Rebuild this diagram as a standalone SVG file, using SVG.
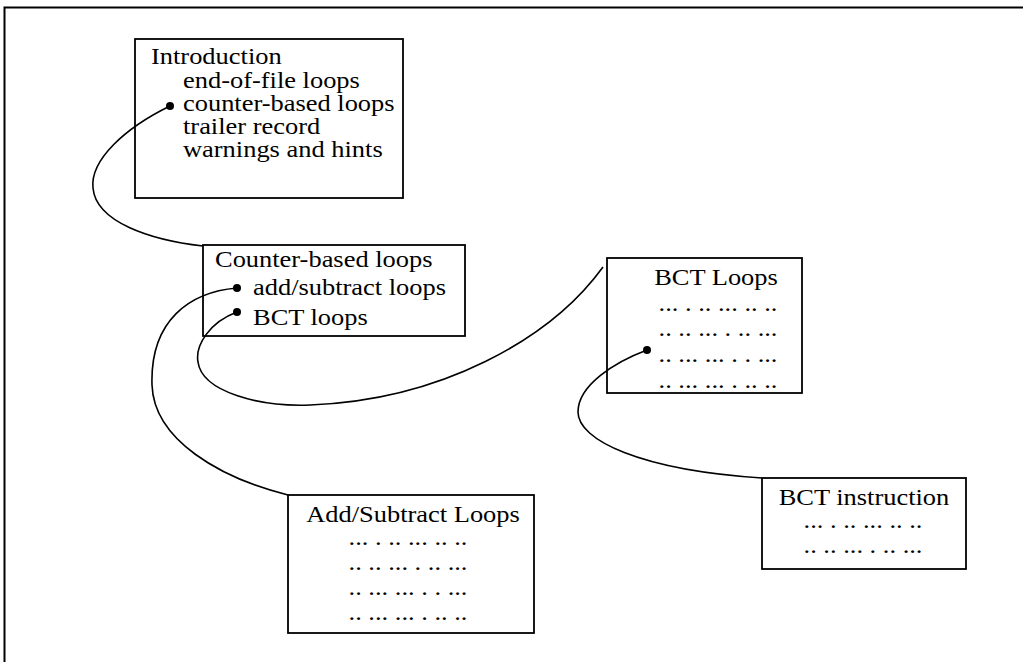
<svg xmlns="http://www.w3.org/2000/svg" width="1023" height="662" viewBox="0 0 1023 662">
  <style>
    .frame { fill: none; stroke: #000; stroke-width: 2; }
    .box { fill: #fff; stroke: #000; stroke-width: 1.8; }
    .t { font-family: "Liberation Serif", "Times New Roman", serif; font-size: 23px; fill: #000; }
    .c { text-anchor: middle; }
    .link { fill: none; stroke: #000; stroke-width: 1.6; }
    .dot { fill: #000; }
  </style>

  <rect width="1023" height="662" fill="#fff"/>
  <!-- page frame: only top and left edges fall inside the view -->
  <path class="frame" d="M4.5,662 V7.5 H1023"/>

  <g id="introduction">
    <rect class="box" x="135" y="39" width="268" height="159"/>
    <text class="t" transform="translate(151 64) scale(1.15 1)">Introduction</text>
    <text class="t" transform="translate(183 88) scale(1.15 1)">end-of-file loops</text>
    <text class="t" transform="translate(183 111) scale(1.15 1)">counter-based loops</text>
    <text class="t" transform="translate(183 134) scale(1.15 1)">trailer record</text>
    <text class="t" transform="translate(183 157) scale(1.15 1)">warnings and hints</text>
  </g>

  <g id="counter-based-loops">
    <rect class="box" x="203" y="245" width="262" height="91"/>
    <text class="t" transform="translate(215 267) scale(1.15 1)">Counter-based loops</text>
    <text class="t" transform="translate(253 295) scale(1.15 1)">add/subtract loops</text>
    <text class="t" transform="translate(253 325) scale(1.15 1)">BCT loops</text>
  </g>

  <g id="bct-loops">
    <rect class="box" x="607" y="258" width="195" height="135"/>
    <text class="t c" transform="translate(716 285) scale(1.15 1)">BCT Loops</text>
    <text class="t c" transform="translate(718 311) scale(1.15 1)">... . .. ... .. ..</text>
    <text class="t c" transform="translate(718 336) scale(1.15 1)">.. .. ... . .. ...</text>
    <text class="t c" transform="translate(718 362) scale(1.15 1)">.. ... ... . . ...</text>
    <text class="t c" transform="translate(718 388) scale(1.15 1)">.. ... ... . .. ..</text>
  </g>

  <g id="add-subtract-loops">
    <rect class="box" x="288" y="495" width="246" height="138"/>
    <text class="t c" transform="translate(413 522) scale(1.15 1)">Add/Subtract Loops</text>
    <text class="t c" transform="translate(408 545) scale(1.15 1)">... . .. ... .. ..</text>
    <text class="t c" transform="translate(408 570) scale(1.15 1)">.. .. ... . .. ...</text>
    <text class="t c" transform="translate(408 595) scale(1.15 1)">.. ... ... . . ...</text>
    <text class="t c" transform="translate(408 620) scale(1.15 1)">.. ... ... . .. ..</text>
  </g>

  <g id="bct-instruction">
    <rect class="box" x="762" y="478" width="204" height="91"/>
    <text class="t c" transform="translate(864 505) scale(1.15 1)">BCT instruction</text>
    <text class="t c" transform="translate(863 528) scale(1.15 1)">... . .. ... .. ..</text>
    <text class="t c" transform="translate(863 553) scale(1.15 1)">.. .. ... . .. ...</text>
  </g>

  <!-- links run from a bullet inside one box to the corner of the next -->
  <g id="connectors">
    <path class="link" d="M170,106 C125,128 90,160 93,188 C96,222 150,240 203,246"/>
    <path class="link" d="M237,288 C190,292 150,320 152,385 C154,440 220,478 288,495"/>
    <path class="link" d="M237,312 C210,322 195,345 198,362 C202,392 260,407 310,405 C440,400 550,340 603,267"/>
    <path class="link" d="M647,350 C615,362 578,385 578,412 C578,440 640,470 762,478"/>
    <circle class="dot" cx="170" cy="106" r="4"/>
    <circle class="dot" cx="237" cy="288" r="4"/>
    <circle class="dot" cx="237" cy="312" r="4"/>
    <circle class="dot" cx="647" cy="350" r="4"/>
  </g>
</svg>
